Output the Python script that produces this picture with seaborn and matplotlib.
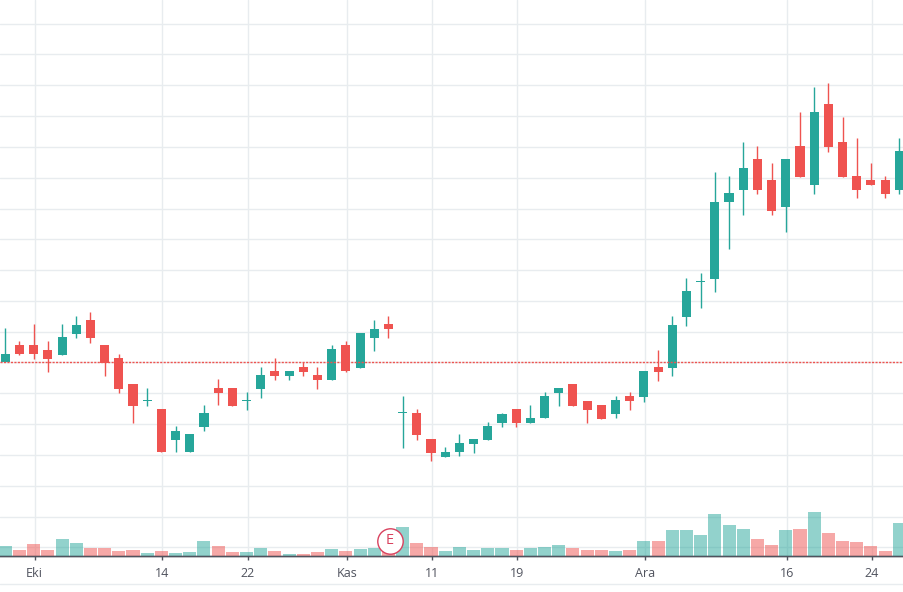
import numpy as np
import pandas as pd
import matplotlib
matplotlib.use("Agg")
import matplotlib.pyplot as plt
from matplotlib.lines import Line2D
import seaborn as sns

# Daily session prices
opens = [23.77, 25.5, 25.5, 25.0, 24.5, 26.6, 28.0, 25.5, 24.2, 21.6, 19.87, 19.1, 16.0, 14.8, 17.3, 21.2,
         21.2, 19.87, 21.1, 22.9, 22.4, 23.3, 22.5, 22.0, 25.5, 23.2, 26.2, 27.6, 18.67, 18.7, 16.1, 14.3,
         14.8, 15.6, 16.0, 17.7, 19.1, 17.7, 18.2, 20.7, 21.6, 19.9, 19.5, 18.6, 20.4, 20.3, 23.3, 23.2,
         28.3, 31.77, 32.1, 39.8, 41.0, 44.1, 42.0, 39.3, 45.4, 41.5, 49.6, 45.8, 42.4, 42.0, 42.0, 41.0]
highs = [27.2, 25.9, 27.6, 25.9, 27.6, 28.4, 28.8, 25.5, 24.6, 21.6, 21.2, 19.1, 17.4, 16.6, 19.5, 22.1,
         21.2, 20.8, 23.3, 24.2, 22.9, 23.8, 23.3, 25.5, 25.9, 26.7, 28.0, 28.4, 20.4, 19.1, 16.1, 15.3,
         16.6, 16.1, 17.8, 18.7, 19.1, 19.5, 20.8, 21.2, 21.6, 19.9, 19.5, 20.4, 20.8, 22.9, 25.0, 28.4,
         32.2, 32.7, 42.8, 42.4, 45.8, 45.4, 43.7, 44.1, 48.8, 51.3, 51.7, 48.3, 46.2, 43.7, 42.4, 46.2]
lows = [23.77, 24.5, 24.1, 22.8, 24.5, 26.2, 25.7, 22.4, 20.7, 17.7, 19.4, 14.8, 14.8, 14.8, 16.9, 19.5,
        19.4, 19.0, 20.2, 22.0, 22.0, 22.4, 21.1, 22.0, 22.8, 23.2, 24.9, 26.2, 15.2, 16.0, 13.9, 14.3,
        14.4, 14.7, 16.0, 17.3, 17.3, 17.7, 18.2, 19.4, 19.4, 17.7, 18.1, 18.2, 19.0, 19.8, 21.9, 22.4,
        27.4, 29.2, 30.8, 35.1, 38.5, 40.6, 38.5, 36.8, 42.3, 40.6, 44.8, 42.3, 40.2, 41.5, 40.2, 40.6]
closes = [24.6, 24.6, 24.6, 24.1, 26.3, 27.5, 26.2, 23.7, 21.1, 19.4, 19.87, 14.8, 16.9, 16.6, 18.7, 20.7,
          19.4, 19.87, 22.5, 22.4, 22.9, 22.8, 22.0, 25.1, 22.9, 26.7, 27.1, 27.1, 18.67, 16.5, 14.7, 14.8,
          15.7, 16.1, 17.4, 18.6, 17.7, 18.2, 20.4, 21.2, 19.4, 19.0, 18.1, 20.0, 19.9, 22.9, 22.8, 27.5,
          30.9, 31.77, 39.8, 40.7, 43.2, 41.0, 38.9, 44.1, 42.3, 48.8, 45.3, 42.3, 41.0, 41.5, 40.6, 44.9]
rising = [1, 0, 0, 0, 1, 1, 0, 0, 0, 0, 1, 0, 1, 1, 1, 0,
          0, 1, 1, 0, 1, 0, 0, 1, 0, 1, 1, 0, 1, 0, 0, 1,
          1, 1, 1, 1, 0, 1, 1, 1, 0, 0, 0, 1, 0, 1, 0, 1,
          1, 1, 1, 1, 1, 0, 0, 1, 0, 1, 0, 0, 0, 0, 0, 1]
volumes = [10.3, 6.3, 12.3, 6.3, 17.3, 13.3, 8.3, 8.3, 5.3, 6.3, 3.3, 5.3, 3.3, 4.3, 15.3, 10.3,
           4.3, 4.3, 8.3, 5.3, 2.3, 2.3, 4.3, 7.3, 5.3, 7.3, 8.3, 6.3, 29.3, 13.3, 9.3, 5.3,
           9.3, 6.3, 8.3, 8.3, 6.3, 8.3, 9.3, 11.3, 8.3, 6.3, 6.3, 5.3, 6.3, 15.3, 15.3, 26.3,
           26.3, 21.3, 42.3, 31.3, 27.3, 17.3, 11.3, 26.3, 27.3, 44.3, 23.3, 15.3, 14.3, 10.3, 5.3, 33.3]

# Date axis and horizontal price levels
date_ticks = [2.07, 11.07, 17.07, 24.07, 30.07, 36.07, 45.07, 55.07, 61.07]
date_labels = ["Eki", "14", "22", "Kas", "11", "19", "Ara", "16", "24"]
price_levels = [57.65, 54.6, 51.47, 48.37, 45.27, 42.2, 39.15, 36.07, 32.97, 29.87,
                26.83, 23.78, 20.67, 17.57, 14.5, 11.4, 8.35, 5.3]
last_price = 23.78
earnings_session = 27.08

UP = "#26a69a"
DOWN = "#ef5350"
GRID = "#e8ecef"
TEXT = "#50535e"

sns.set_theme(style="white", rc={"font.family": ["Open Sans", "DejaVu Sans"]})

df = pd.DataFrame({"session": np.arange(len(opens)), "open": opens, "high": highs, "low": lows,
                   "close": closes, "volume": volumes,
                   "direction": ["up" if r else "down" for r in rising]})
colors = df["direction"].map({"up": UP, "down": DOWN})

fig = plt.figure(figsize=(9.04, 5.92), dpi=100, facecolor="white")
ax = fig.add_axes([0, 35.7 / 592, 1, 556.3 / 592])
ax.set_facecolor("white")
ax.set_axisbelow(True)

# Candles: wicks first, bodies on top, with a hairline body for doji sessions
ax.vlines(df["session"], df["low"], df["high"], colors=colors, linewidth=1.0, zorder=3)
body_low = df[["open", "close"]].min(axis=1)
body_height = (df["open"] - df["close"]).abs().clip(lower=0.12)
ax.bar(df["session"], body_height, bottom=body_low, width=0.64, color=colors, linewidth=0, zorder=4)

ax.axhline(last_price, color=DOWN, linewidth=1.0, linestyle=(0, (1.5, 1)), zorder=5)

ax.set_yticks(price_levels)
ax.set_yticklabels([])
ax.set_ylim(4.37, 60)
ax.grid(True, axis="both", color=GRID, linewidth=1.0)

# Volume pane shares the date axis and stands on the bottom spine
vol_ax = ax.twinx()
sns.barplot(data=df, x="session", y="volume", hue="direction", palette={"up": UP, "down": DOWN},
            native_scale=True, dodge=False, width=0.92, saturation=1, alpha=0.5, linewidth=0,
            legend=False, ax=vol_ax, zorder=2)
vol_ax.set_ylim(0, 556.3)
vol_ax.set_yticks([])
vol_ax.set_ylabel("")
vol_ax.set_xlabel("")

ax.set_xlim(-0.3735, 63.33)
vol_ax.set_xlim(-0.3735, 63.33)
ax.set_xticks(date_ticks)
ax.set_xticklabels(date_labels)
ax.tick_params(axis="x", length=3, width=1, color=TEXT, labelcolor=TEXT, labelsize=9, pad=5, bottom=True)
ax.tick_params(axis="y", length=0)

for a in (ax, vol_ax):
    for side in ("top", "left", "right"):
        a.spines[side].set_visible(False)
    a.spines["bottom"].set_color(TEXT)
    a.spines["bottom"].set_linewidth(1.0)

# Earnings marker above the volume bars
vol_ax.scatter([earnings_session], [15.7], s=335, facecolor="white", edgecolor="#d9415e",
               linewidth=1.0, zorder=6, clip_on=False)
vol_ax.text(earnings_session, 15.5, "E", color="#d9415e", fontsize=10.5, ha="center", va="center", zorder=7)

# Thin rule closing the date axis
fig.add_artist(Line2D([0, 1], [1 - 583.5 / 592] * 2, color=GRID, linewidth=1.0))

fig.savefig("out.png", dpi=100, facecolor="white")
